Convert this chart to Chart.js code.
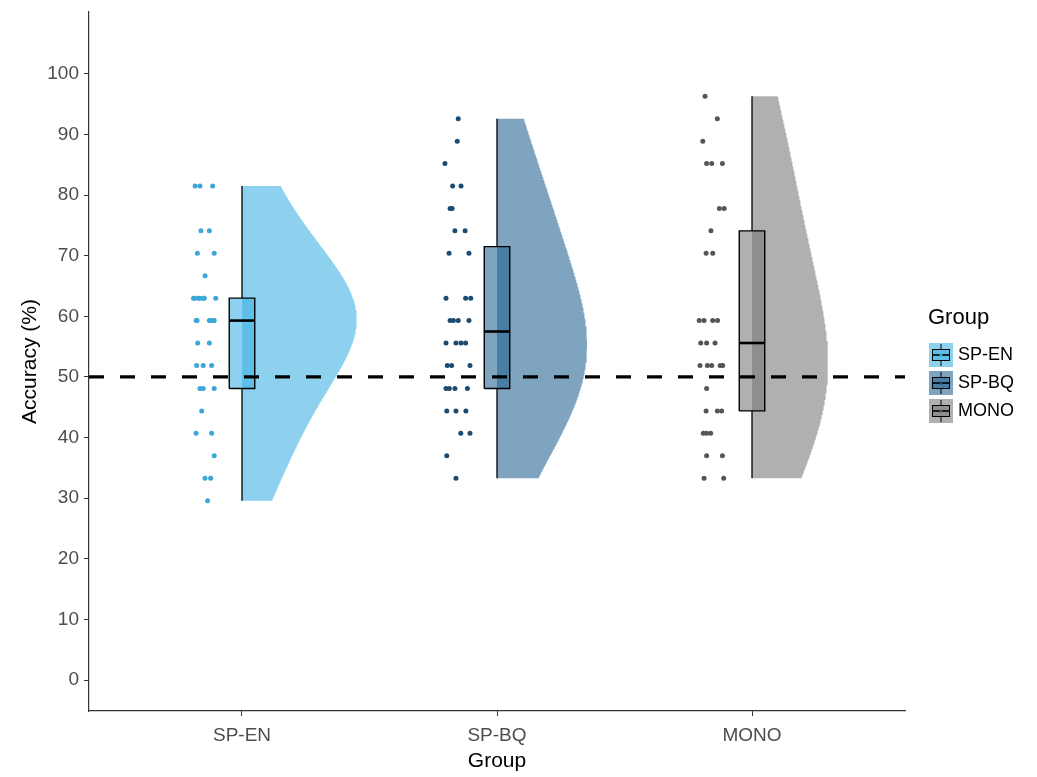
<!DOCTYPE html>
<html>
<head>
<meta charset="utf-8">
<script src="https://cdn.jsdelivr.net/npm/chart.js@4.4.0/dist/chart.umd.min.js"></script>
<style>
  body { margin: 0; background: #fff; }
</style>
</head>
<body>
<canvas id="accChart" width="1037" height="777"></canvas>
<script>
const groups = ["SP-EN", "SP-BQ", "MONO"];

// accuracy per participant (%) and the sideways jitter of its dot (group units)
// some dots sit on top of each other; the box summaries show they are there
const spEnAcc = [81.5, 81.5, 81.5, 74.1, 74.1, 70.4, 70.4, 66.7, 63.0, 63.0, 63.0, 63.0, 63.0, 63.0, 63.0,
  59.3, 59.3, 59.3, 59.3, 59.3, 59.3, 55.6, 55.6, 51.9, 51.9, 51.9, 48.1, 48.1, 48.1, 44.4, 40.7, 40.7,
  37.0, 33.3, 33.3, 29.6];
const spEnJitter = [-0.184, -0.165, -0.115, -0.161, -0.128, -0.175, -0.109, -0.145, -0.19, -0.186, -0.171,
  -0.166, -0.153, -0.148, -0.103, -0.18, -0.176, -0.128, -0.124, -0.113, -0.109, -0.174, -0.128, -0.178,
  -0.152, -0.119, -0.165, -0.152, -0.109, -0.158, -0.18, -0.119, -0.109, -0.145, -0.123, -0.135];

const spBqAcc = [92.6, 88.9, 85.2, 81.5, 81.5, 77.8, 77.8, 74.1, 74.1, 70.4, 70.4, 63.0, 63.0, 63.0,
  59.3, 59.3, 59.3, 59.3, 55.6, 55.6, 55.6, 55.6, 51.9, 51.9, 51.9, 48.1, 48.1, 48.1, 48.1,
  44.4, 44.4, 44.4, 40.7, 40.7, 37.0, 33.3];
const spBqJitter = [-0.152, -0.156, -0.204, -0.174, -0.141, -0.184, -0.176, -0.165, -0.125, -0.188, -0.11,
  -0.2, -0.123, -0.103, -0.184, -0.171, -0.152, -0.11, -0.2, -0.161, -0.141, -0.123, -0.195, -0.178, -0.106,
  -0.2, -0.187, -0.165, -0.116, -0.197, -0.161, -0.122, -0.142, -0.106, -0.197, -0.161];

const monoAcc = [96.3, 92.6, 88.9, 85.2, 85.2, 85.2, 77.8, 77.8, 74.1, 70.4, 70.4,
  59.3, 59.3, 59.3, 59.3, 55.6, 55.6, 55.6, 51.9, 51.9, 51.9, 51.9, 51.9, 48.1,
  44.4, 44.4, 44.4, 40.7, 40.7, 40.7, 37.0, 37.0, 33.3, 33.3];
const monoJitter = [-0.184, -0.136, -0.193, -0.178, -0.158, -0.116, -0.128, -0.109, -0.161, -0.18, -0.154,
  -0.207, -0.188, -0.154, -0.135, -0.201, -0.178, -0.145, -0.204, -0.175, -0.158, -0.125, -0.115, -0.178,
  -0.18, -0.136, -0.119, -0.191, -0.178, -0.162, -0.178, -0.116, -0.188, -0.111];

// boxplot summaries as drawn
const boxMin    = [29.6, 33.3, 33.3];
const boxQ1     = [48.1, 48.1, 44.4];
const boxMedian = [59.3, 57.5, 55.6];
const boxQ3     = [63.0, 71.5, 74.1];
const boxMax    = [81.5, 92.6, 96.3];

const yTicks = [0, 10, 20, 30, 40, 50, 60, 70, 80, 90, 100];
const chanceLevel = 50;

const accByGroup = [spEnAcc, spBqAcc, monoAcc];
const jitterByGroup = [spEnJitter, spBqJitter, monoJitter];

const fillColors = ["rgba(58,175,228,0.58)", "rgba(34,98,145,0.58)", "rgba(119,119,119,0.58)"];
const dotColors = ["#3aa7d8", "#1c4b6f", "#555555"];
const boxWidth = 0.1;
const violinHalf = 0.45;
const bwAdjust = 1.9;
const font = '"Liberation Sans", Arial, sans-serif';

// gaussian kernel density, bandwidth like R's bw.nrd0 (times an adjust factor)
function q7(sorted, p) {
  const h = (sorted.length - 1) * p;
  const lo = Math.floor(h);
  const hi = Math.min(lo + 1, sorted.length - 1);
  return sorted[lo] + (h - lo) * (sorted[hi] - sorted[lo]);
}
function bwNrd0(v) {
  const n = v.length;
  const mean = v.reduce((a, b) => a + b, 0) / n;
  const sd = Math.sqrt(v.reduce((a, b) => a + (b - mean) ** 2, 0) / (n - 1));
  const s = [...v].sort((a, b) => a - b);
  const iqr = q7(s, 0.75) - q7(s, 0.25);
  return 0.9 * Math.min(sd, iqr / 1.34) * Math.pow(n, -0.2);
}
function densityCurve(v) {
  const bw = bwNrd0(v) * bwAdjust;
  const lo = Math.min(...v), hi = Math.max(...v);
  const pts = [];
  for (let i = 0; i < 512; i++) {
    const y = lo + (hi - lo) * i / 511;
    let d = 0;
    v.forEach(x => { d += Math.exp(-0.5 * ((y - x) / bw) ** 2); });
    pts.push({ y: y, d: d / (v.length * bw * Math.sqrt(2 * Math.PI)) });
  }
  return pts;
}
const curves = accByGroup.map(densityCurve);
const maxDens = Math.max(...curves.map(c => Math.max(...c.map(p => p.d))));

const datasets = [];

// dashed chance line on top
datasets.push({
  type: "line", order: 0,
  data: [{ x: 0.4, y: chanceLevel }, { x: 3.6, y: chanceLevel }],
  borderColor: "#000", borderWidth: 3.2, borderDash: [15, 16],
  pointRadius: 0, fill: false
});

groups.forEach((g, i) => {
  const cx = i + 1;
  const curve = curves[i];

  // half violin
  const vpts = [{ x: cx, y: curve[0].y }];
  curve.forEach(p => vpts.push({ x: cx + p.d / maxDens * violinHalf, y: p.y }));
  vpts.push({ x: cx, y: curve[curve.length - 1].y });
  datasets.push({
    type: "line", order: 6, data: vpts, fill: "shape",
    backgroundColor: fillColors[i], borderColor: "rgba(0,0,0,0)", borderWidth: 0, pointRadius: 0
  });

  // whiskers
  datasets.push({
    type: "line", order: 5, data: [{ x: cx, y: boxMin[i] }, { x: cx, y: boxQ1[i] }],
    borderColor: "#000", borderWidth: 1.3, pointRadius: 0, fill: false
  });
  datasets.push({
    type: "line", order: 5, data: [{ x: cx, y: boxQ3[i] }, { x: cx, y: boxMax[i] }],
    borderColor: "#000", borderWidth: 1.3, pointRadius: 0, fill: false
  });

  // box
  const l = cx - boxWidth / 2, r = cx + boxWidth / 2;
  datasets.push({
    type: "line", order: 4, fill: "shape",
    data: [{ x: l, y: boxQ1[i] }, { x: l, y: boxQ3[i] }, { x: r, y: boxQ3[i] }, { x: r, y: boxQ1[i] }, { x: l, y: boxQ1[i] }],
    backgroundColor: fillColors[i], borderColor: "#000", borderWidth: 1.4, pointRadius: 0
  });

  // median
  datasets.push({
    type: "line", order: 3, data: [{ x: l, y: boxMedian[i] }, { x: r, y: boxMedian[i] }],
    borderColor: "#000", borderWidth: 2.6, pointRadius: 0, fill: false
  });

  // raw points
  datasets.push({
    type: "scatter", order: 1,
    data: accByGroup[i].map((a, k) => ({ x: cx + jitterByGroup[i][k], y: a })),
    backgroundColor: dotColors[i], borderWidth: 0, pointRadius: 2.5
  });
});

const legendPlugin = {
  id: "groupLegend",
  afterDraw(chart) {
    const ctx = chart.ctx;
    ctx.save();
    ctx.textBaseline = "middle";
    ctx.fillStyle = "#000";
    ctx.font = "22px " + font;
    ctx.fillText("Group", 928, 318);
    ctx.font = "18px " + font;
    groups.forEach((g, i) => {
      const kx = 929, ky = 343 + i * 28, kw = 24, kh = 24;
      ctx.fillStyle = fillColors[i];
      ctx.fillRect(kx, ky, kw, kh);
      ctx.fillRect(kx + 3, ky + 6, kw - 6, kh - 12);
      ctx.strokeStyle = "#000";
      ctx.lineWidth = 1;
      ctx.strokeRect(kx + 3.5, ky + 6.5, kw - 7, kh - 13);
      ctx.beginPath();
      ctx.moveTo(kx + kw / 2, ky + 1); ctx.lineTo(kx + kw / 2, ky + 6);
      ctx.moveTo(kx + kw / 2, ky + kh - 6); ctx.lineTo(kx + kw / 2, ky + kh - 1);
      ctx.stroke();
      ctx.lineWidth = 1.6;
      ctx.beginPath();
      ctx.moveTo(kx + 3, ky + kh / 2); ctx.lineTo(kx + kw - 3, ky + kh / 2);
      ctx.stroke();
      ctx.fillStyle = dotColors[i];
      ctx.beginPath();
      ctx.arc(kx + kw / 2, ky + kh / 2, 1.5, 0, Math.PI * 2);
      ctx.fill();
      ctx.fillStyle = "#000";
      ctx.fillText(g, kx + kw + 5, ky + kh / 2);
    });
    ctx.restore();
  }
};

new Chart(document.getElementById("accChart"), {
  type: "scatter",
  data: { datasets: datasets },
  plugins: [legendPlugin],
  options: {
    responsive: false,
    animation: false,
    events: [],
    layout: { padding: { top: 12, right: 132, left: 0, bottom: 0 } },
    plugins: { legend: { display: false }, tooltip: { enabled: false } },
    scales: {
      x: {
        type: "linear", min: 0.4, max: 3.6,
        afterBuildTicks: axis => { axis.ticks = groups.map((g, i) => ({ value: i + 1 })); },
        afterFit: scale => { scale.height = 66; },
        ticks: {
          callback: v => groups[v - 1],
          color: "#4d4d4d", font: { family: font, size: 19 }, padding: 8, maxRotation: 0
        },
        grid: { display: true, drawOnChartArea: false, tickLength: 5, color: "#333" },
        border: { display: true, color: "#333", width: 1.2 },
        title: { display: true, text: "Group", color: "#000", font: { family: font, size: 21 }, padding: { top: 0, bottom: 3 } }
      },
      y: {
        type: "linear", min: -5.1, max: 110.2,
        afterBuildTicks: axis => { axis.ticks = yTicks.map(v => ({ value: v })); },
        afterFit: scale => { scale.width = 89; scale.paddingTop = 0; scale.paddingBottom = 0; },
        ticks: { color: "#4d4d4d", font: { family: font, size: 19 }, padding: 5 },
        grid: { display: true, drawOnChartArea: false, tickLength: 5, color: "#333" },
        border: { display: true, color: "#333", width: 1.2 },
        title: { display: true, text: "Accuracy (%)", color: "#000", font: { family: font, size: 21 }, padding: { top: 18, bottom: 0 } }
      }
    }
  }
});
</script>
</body>
</html>
